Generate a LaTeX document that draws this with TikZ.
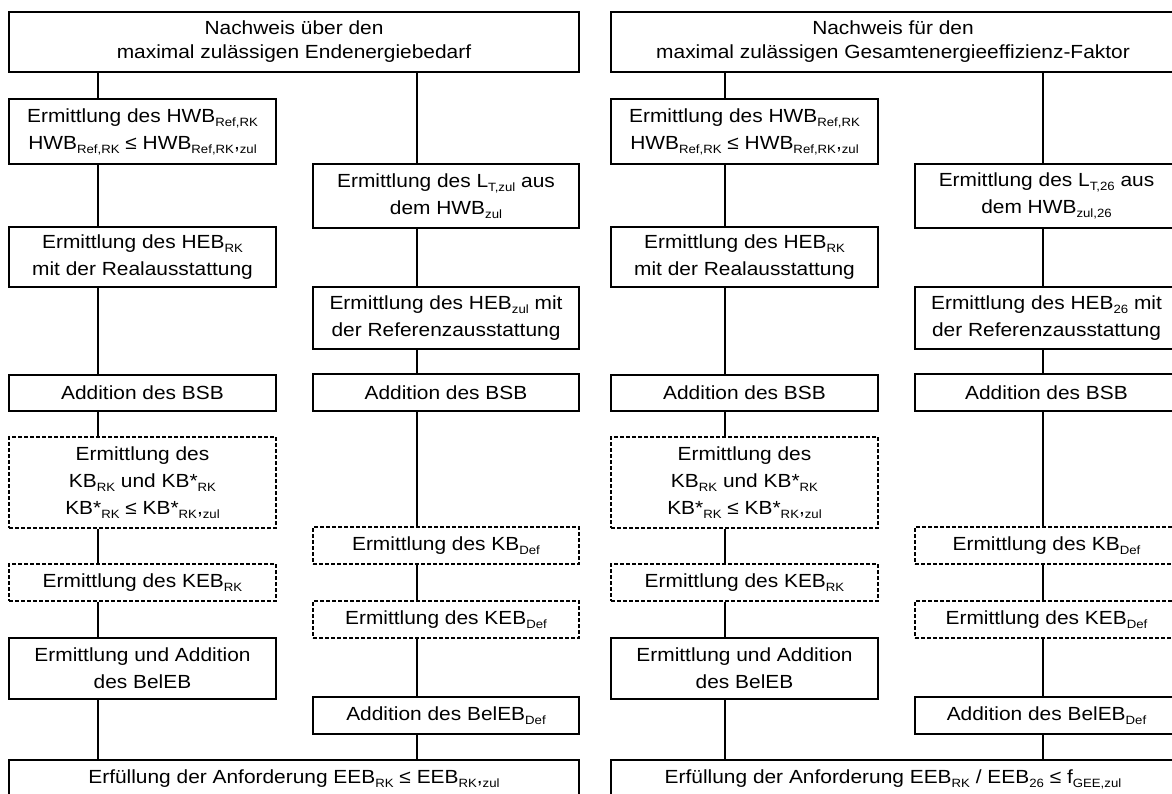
\documentclass[tikz,border=0pt]{standalone}
\usepackage{fontspec}
\setmainfont{Liberation Sans}[FakeStretch=1.1]
\newcommand\sbs[1]{\raisebox{-0.2em}{\fontsize{12}{12}\selectfont #1}}
\begin{document}
\begin{tikzpicture}[x=1pt,y=-1pt,
  box/.style={draw, line width=2pt, align=center, inner sep=0pt, font=\fontsize{19}{27}\selectfont},
  dbox/.style={box, line width=1.4pt, dash pattern=on 4pt off 2pt},
  topbox/.style={box, font=\fontsize{19}{24}\selectfont},
  link/.style={line width=2pt}]
\useasboundingbox (0,0) rectangle (1172,793);
\fill[white] (0,0) rectangle (1172,793);
\coordinate (xa) at (98,0);
\coordinate (xb) at (417,0);
\coordinate (xc) at (724.5,0);
\coordinate (xd) at (1043,0);
% ---------- left panel ----------
\node[topbox, minimum width=570pt, minimum height=60pt] (T1) at (294,42) {Nachweis über den\\maximal zulässigen Endenergiebedarf};
\node[box, minimum width=267pt, minimum height=65pt] (A1) at (142.5,131.5) {Ermittlung des HWB\sbs{Ref,RK}\\HWB\sbs{Ref,RK} ≤ HWB\sbs{Ref,RK},\sbs{zul}};
\node[box, minimum width=267pt, minimum height=60pt] (A2) at (142.5,257) {Ermittlung des HEB\sbs{RK}\\mit der Realausstattung};
\node[box, minimum width=267pt, minimum height=36pt] (A3) at (142.5,393) {Addition des BSB};
\node[dbox, minimum width=267pt, minimum height=91pt] (A4) at (142.5,482.5) {Ermittlung des\\KB\sbs{RK} und KB*\sbs{RK}\\KB*\sbs{RK} ≤ KB*\sbs{RK},\sbs{zul}};
\node[dbox, minimum width=267pt, minimum height=37pt] (A5) at (142.5,582.5) {Ermittlung des KEB\sbs{RK}};
\node[box, minimum width=267pt, minimum height=61pt] (A6) at (142.5,668.5) {Ermittlung und Addition\\des BelEB};
\node[box, minimum width=266pt, minimum height=64pt] (B1) at (446,196) {Ermittlung des L\sbs{T,zul} aus\\dem HWB\sbs{zul}};
\node[box, minimum width=266pt, minimum height=62pt] (B2) at (446,318) {Ermittlung des HEB\sbs{zul} mit\\der Referenzausstattung};
\node[box, minimum width=266pt, minimum height=37pt] (B3) at (446,392.5) {Addition des BSB};
\node[dbox, minimum width=266pt, minimum height=37pt] (B4) at (446,545.5) {Ermittlung des KB\sbs{Def}};
\node[dbox, minimum width=266pt, minimum height=37pt] (B5) at (446,619.5) {Ermittlung des KEB\sbs{Def}};
\node[box, minimum width=266pt, minimum height=37pt] (B6) at (446,715.5) {Addition des BelEB\sbs{Def}};
\node[box, minimum width=570pt, minimum height=38pt] (E1) at (294,779) {Erfüllung der Anforderung EEB\sbs{RK} ≤ EEB\sbs{RK},\sbs{zul}};
% ---------- right panel ----------
\node[topbox, minimum width=564pt, minimum height=60pt] (T2) at (893,42) {Nachweis für den\\maximal zulässigen Gesamtenergieeffizienz-Faktor};
\node[box, minimum width=267pt, minimum height=65pt] (P1) at (744.5,131.5) {Ermittlung des HWB\sbs{Ref,RK}\\HWB\sbs{Ref,RK} ≤ HWB\sbs{Ref,RK},\sbs{zul}};
\node[box, minimum width=267pt, minimum height=60pt] (P2) at (744.5,257) {Ermittlung des HEB\sbs{RK}\\mit der Realausstattung};
\node[box, minimum width=267pt, minimum height=36pt] (P3) at (744.5,393) {Addition des BSB};
\node[dbox, minimum width=267pt, minimum height=91pt] (P4) at (744.5,482.5) {Ermittlung des\\KB\sbs{RK} und KB*\sbs{RK}\\KB*\sbs{RK} ≤ KB*\sbs{RK},\sbs{zul}};
\node[dbox, minimum width=267pt, minimum height=37pt] (P5) at (744.5,582.5) {Ermittlung des KEB\sbs{RK}};
\node[box, minimum width=267pt, minimum height=61pt] (P6) at (744.5,668.5) {Ermittlung und Addition\\des BelEB};
\node[box, minimum width=263pt, minimum height=64pt] (C1) at (1046.5,196) {Ermittlung des L\sbs{T,26} aus\\dem HWB\sbs{zul,26}};
\node[box, minimum width=263pt, minimum height=62pt] (C2) at (1046.5,318) {Ermittlung des HEB\sbs{26} mit\\der Referenzausstattung};
\node[box, minimum width=263pt, minimum height=37pt] (C3) at (1046.5,392.5) {Addition des BSB};
\node[dbox, minimum width=263pt, minimum height=37pt] (C4) at (1046.5,545.5) {Ermittlung des KB\sbs{Def}};
\node[dbox, minimum width=263pt, minimum height=37pt] (C5) at (1046.5,619.5) {Ermittlung des KEB\sbs{Def}};
\node[box, minimum width=263pt, minimum height=37pt] (C6) at (1046.5,715.5) {Addition des BelEB\sbs{Def}};
\node[box, minimum width=564pt, minimum height=38pt] (E2) at (893,779) {Erfüllung der Anforderung EEB\sbs{RK} / EEB\sbs{26} ≤ f\sbs{GEE,zul}};
% ---------- connectors ----------
\foreach \u/\v in {T1/A1,A1/A2,A2/A3,A3/A4,A4/A5,A5/A6,A6/E1}
  \draw[link] (\u.south -| xa) -- (\v.north -| xa);
\foreach \u/\v in {T1/B1,B1/B2,B2/B3,B3/B4,B4/B5,B5/B6,B6/E1}
  \draw[link] (\u.south -| xb) -- (\v.north -| xb);
\foreach \u/\v in {T2/P1,P1/P2,P2/P3,P3/P4,P4/P5,P5/P6,P6/E2}
  \draw[link] (\u.south -| xc) -- (\v.north -| xc);
\foreach \u/\v in {T2/C1,C1/C2,C2/C3,C3/C4,C4/C5,C5/C6,C6/E2}
  \draw[link] (\u.south -| xd) -- (\v.north -| xd);
\end{tikzpicture}
\end{document}
